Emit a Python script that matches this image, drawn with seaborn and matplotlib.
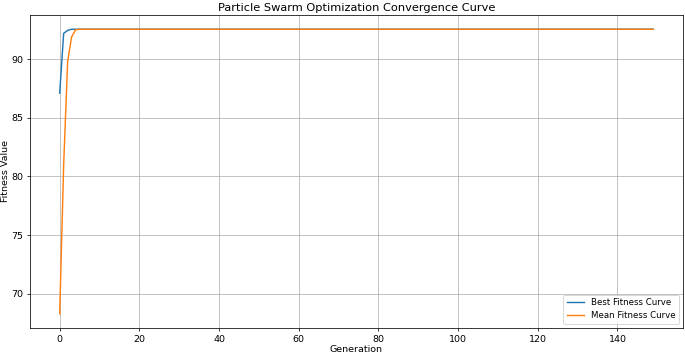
import numpy as np
import pandas as pd
import matplotlib
matplotlib.use("Agg")
import matplotlib.pyplot as plt
import seaborn as sns

# 세대 수 / 수렴값
n_gen = 150
plateau = 92.55

# 초기 세대 값, 이후는 수렴값 유지
best_head = [87.1, 92.2, 92.45]
mean_head = [68.3, 81.0, 89.8, 91.9, 92.5]

best_fitness = best_head + [plateau] * (n_gen - len(best_head))
mean_fitness = mean_head + [plateau] * (n_gen - len(mean_head))
generations = list(range(n_gen))

df = pd.DataFrame({
    "Generation": generations * 2,
    "Fitness": best_fitness + mean_fitness,
    "Curve": ["Best Fitness Curve"] * n_gen + ["Mean Fitness Curve"] * n_gen,
})

plt.rcParams["font.family"] = ["DejaVu Sans"]

fig, ax = plt.subplots(figsize=(10, 353 / 68.5), dpi=68.5)
sns.lineplot(data=df, x="Generation", y="Fitness", hue="Curve",
             palette=["#1f77b4", "#ff7f0e"], linewidth=1.5, ax=ax)
ax.set_title("Particle Swarm Optimization Convergence Curve", fontsize=12, pad=4)
ax.set_xlabel("Generation", fontsize=10, labelpad=1)
ax.set_ylabel("Fitness Value", fontsize=10, labelpad=1)
ax.grid(True)
ax.legend(loc="lower right", fontsize=9, title=None)
fig.subplots_adjust(left=30 / 685, right=683 / 685,
                    top=1 - 15 / 353, bottom=1 - 328 / 353)
fig.savefig("out.png", dpi=68.5, facecolor="white")
